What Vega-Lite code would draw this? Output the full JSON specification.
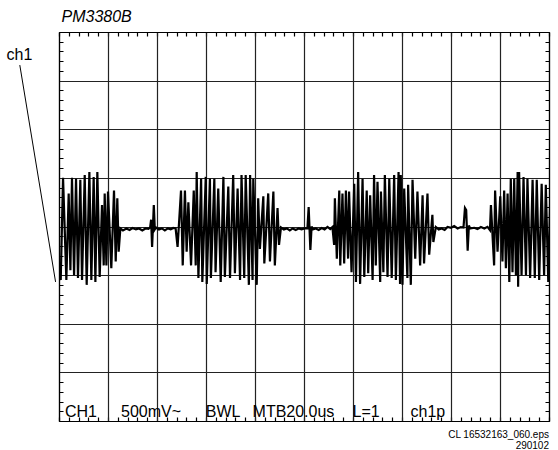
{
  "$schema": "https://vega.github.io/schema/vega-lite/v6.json",
  "width": 490,
  "height": 389,
  "autosize": {"type": "none"},
  "padding": {"left": 59, "top": 32, "right": 9, "bottom": 29},
  "background": "white",
  "config": {
    "view": {"stroke": null},
    "font": "Liberation Sans",
    "axis": {"domainColor": "black", "domainWidth": 1.2, "gridColor": "#222", "gridOpacity": 1, "labels": false, "ticks": false}
  },
  "title": {
    "text": ["CL 16532163_060.eps", "290102"],
    "orient": "bottom",
    "anchor": "end",
    "align": "right",
    "fontSize": 10,
    "fontWeight": "normal",
    "lineHeight": 10.5,
    "offset": 9,
    "color": "black"
  },
  "datasets": {
    "wave": [
      {"t": -0.4, "v": -0.40}, {"t": 0.7, "v": -0.55}, {"t": 1.65, "v": 0.50}, {"t": 3.0, "v": -0.55},
      {"t": 3.95, "v": 0.34}, {"t": 4.65, "v": -0.45}, {"t": 5.3, "v": 0.50}, {"t": 6.15, "v": -0.50},
      {"t": 6.95, "v": 0.49}, {"t": 7.75, "v": -0.53}, {"t": 8.7, "v": 0.48}, {"t": 9.4, "v": -0.55},
      {"t": 10.5, "v": 0.53}, {"t": 11.3, "v": -0.60}, {"t": 12.4, "v": 0.56}, {"t": 13.2, "v": -0.55},
      {"t": 14.15, "v": 0.51}, {"t": 14.85, "v": -0.57}, {"t": 15.65, "v": 0.56}, {"t": 16.6, "v": -0.52},
      {"t": 17.55, "v": 0.22}, {"t": 18.25, "v": -0.40}, {"t": 18.65, "v": 0.34}, {"t": 19.35, "v": -0.40},
      {"t": 20.0, "v": 0.36}, {"t": 21.35, "v": -0.43}, {"t": 22.45, "v": 0.37}, {"t": 23.15, "v": -0.36},
      {"t": 23.8, "v": 0.29}, {"t": 24.35, "v": -0.26}, {"t": 25.05, "v": -0.02}, {"t": 26.1, "v": -0.04},
      {"t": 27.5, "v": -0.02}, {"t": 28.8, "v": -0.035}, {"t": 30.0, "v": -0.015}, {"t": 31.4, "v": -0.03},
      {"t": 32.7, "v": -0.02}, {"t": 34.0, "v": -0.04}, {"t": 35.3, "v": -0.02}, {"t": 36.5, "v": -0.025},
      {"t": 37.2, "v": -0.01}, {"t": 37.6, "v": 0.07}, {"t": 38.0, "v": -0.21}, {"t": 38.7, "v": 0.22},
      {"t": 39.1, "v": -0.03}, {"t": 39.6, "v": -0.01}, {"t": 40.8, "v": -0.03}, {"t": 42.0, "v": -0.02},
      {"t": 43.2, "v": -0.04}, {"t": 44.4, "v": -0.02}, {"t": 45.6, "v": -0.03}, {"t": 46.6, "v": -0.015},
      {"t": 47.6, "v": -0.02},
      {"t": 48.4, "v": -0.21}, {"t": 49.8, "v": 0.37}, {"t": 50.5, "v": -0.40}, {"t": 51.4, "v": 0.37},
      {"t": 52.1, "v": -0.26}, {"t": 52.8, "v": 0.25}, {"t": 53.9, "v": -0.40}, {"t": 55.0, "v": 0.37},
      {"t": 55.8, "v": -0.40}, {"t": 56.2, "v": 0.56}, {"t": 56.9, "v": -0.53}, {"t": 58.0, "v": 0.49},
      {"t": 58.5, "v": -0.57}, {"t": 59.9, "v": 0.51}, {"t": 60.3, "v": -0.59}, {"t": 61.6, "v": 0.49},
      {"t": 62.0, "v": -0.53}, {"t": 63.4, "v": 0.49}, {"t": 63.9, "v": -0.47}, {"t": 65.0, "v": 0.39},
      {"t": 66.0, "v": -0.57}, {"t": 67.1, "v": 0.51}, {"t": 67.7, "v": -0.52}, {"t": 69.1, "v": 0.41},
      {"t": 69.8, "v": -0.53}, {"t": 71.1, "v": 0.53}, {"t": 71.8, "v": -0.48}, {"t": 72.9, "v": 0.39},
      {"t": 73.9, "v": -0.55}, {"t": 74.5, "v": 0.53}, {"t": 75.6, "v": -0.53}, {"t": 76.2, "v": 0.53},
      {"t": 77.5, "v": -0.60}, {"t": 78.0, "v": 0.53}, {"t": 79.0, "v": -0.55}, {"t": 79.3, "v": 0.49},
      {"t": 80.7, "v": -0.60}, {"t": 81.3, "v": 0.29}, {"t": 82.0, "v": -0.23}, {"t": 83.4, "v": 0.31},
      {"t": 83.8, "v": -0.38}, {"t": 85.4, "v": 0.34}, {"t": 86.1, "v": -0.36}, {"t": 87.5, "v": 0.36},
      {"t": 88.1, "v": -0.40}, {"t": 89.2, "v": 0.19}, {"t": 89.8, "v": -0.19}, {"t": 90.6, "v": -0.01},
      {"t": 91.8, "v": -0.03}, {"t": 93.0, "v": -0.02}, {"t": 94.2, "v": -0.04}, {"t": 95.4, "v": -0.02},
      {"t": 96.6, "v": -0.035}, {"t": 97.8, "v": -0.02}, {"t": 99.0, "v": -0.03}, {"t": 100.2, "v": -0.02},
      {"t": 101.4, "v": -0.02}, {"t": 101.9, "v": 0.20}, {"t": 102.6, "v": -0.24}, {"t": 103.1, "v": 0.0},
      {"t": 103.6, "v": -0.03}, {"t": 104.8, "v": -0.02}, {"t": 106.0, "v": -0.035}, {"t": 107.2, "v": -0.015},
      {"t": 108.4, "v": -0.03}, {"t": 109.6, "v": -0.005}, {"t": 110.7, "v": -0.027}, {"t": 111.6, "v": -0.006},
      {"t": 112.3, "v": -0.19}, {"t": 112.6, "v": 0.29}, {"t": 113.4, "v": -0.33}, {"t": 114.4, "v": 0.37},
      {"t": 114.8, "v": -0.40}, {"t": 115.7, "v": 0.34}, {"t": 116.4, "v": -0.38}, {"t": 117.1, "v": 0.37},
      {"t": 118.0, "v": -0.33}, {"t": 118.4, "v": 0.36}, {"t": 119.4, "v": -0.47}, {"t": 120.5, "v": 0.44},
      {"t": 121.2, "v": -0.57}, {"t": 122.1, "v": 0.56}, {"t": 122.9, "v": -0.59}, {"t": 123.9, "v": 0.49},
      {"t": 124.6, "v": -0.52}, {"t": 125.6, "v": 0.37}, {"t": 126.2, "v": -0.48}, {"t": 127.0, "v": 0.32},
      {"t": 128.0, "v": -0.55}, {"t": 128.6, "v": 0.53}, {"t": 129.3, "v": -0.40}, {"t": 130.0, "v": 0.46},
      {"t": 131.1, "v": -0.57}, {"t": 131.4, "v": 0.36}, {"t": 132.4, "v": -0.47}, {"t": 133.0, "v": 0.53},
      {"t": 134.1, "v": -0.52}, {"t": 134.8, "v": 0.49}, {"t": 135.8, "v": -0.53}, {"t": 136.8, "v": 0.53},
      {"t": 137.5, "v": -0.55}, {"t": 138.6, "v": 0.56}, {"t": 139.2, "v": -0.59}, {"t": 139.5, "v": 0.53},
      {"t": 140.2, "v": -0.60}, {"t": 140.9, "v": 0.39}, {"t": 142.2, "v": -0.53}, {"t": 142.5, "v": 0.43},
      {"t": 143.6, "v": -0.60}, {"t": 144.3, "v": 0.48}, {"t": 145.4, "v": -0.33}, {"t": 146.3, "v": 0.36},
      {"t": 147.4, "v": -0.40}, {"t": 148.4, "v": 0.32}, {"t": 149.0, "v": -0.38}, {"t": 150.4, "v": 0.34},
      {"t": 151.1, "v": -0.29}, {"t": 152.4, "v": 0.12}, {"t": 152.8, "v": -0.16}, {"t": 153.8, "v": -0.005},
      {"t": 155.0, "v": -0.03}, {"t": 156.2, "v": -0.02}, {"t": 157.4, "v": -0.035}, {"t": 158.6, "v": -0.005},
      {"t": 160.0, "v": -0.013}, {"t": 161.3, "v": 0.004}, {"t": 162.7, "v": -0.02}, {"t": 164.0, "v": -0.006},
      {"t": 165.1, "v": -0.01}, {"t": 165.7, "v": 0.19}, {"t": 166.2, "v": 0.17}, {"t": 166.8, "v": -0.25},
      {"t": 167.3, "v": 0.01}, {"t": 167.8, "v": -0.02}, {"t": 169.5, "v": -0.013}, {"t": 170.8, "v": -0.027},
      {"t": 172.2, "v": -0.006}, {"t": 173.6, "v": -0.02}, {"t": 174.9, "v": -0.003}, {"t": 175.9, "v": -0.037},
      {"t": 176.3, "v": 0.22}, {"t": 177.6, "v": -0.40}, {"t": 178.0, "v": 0.37}, {"t": 179.0, "v": -0.26},
      {"t": 180.1, "v": 0.31}, {"t": 181.0, "v": -0.36}, {"t": 181.7, "v": 0.37}, {"t": 182.4, "v": -0.43},
      {"t": 183.1, "v": 0.34}, {"t": 183.8, "v": -0.57}, {"t": 184.4, "v": 0.49}, {"t": 185.1, "v": -0.47},
      {"t": 185.8, "v": 0.49}, {"t": 186.5, "v": -0.50}, {"t": 187.2, "v": 0.56}, {"t": 187.4, "v": -0.62},
      {"t": 187.8, "v": 0.56}, {"t": 188.8, "v": -0.50}, {"t": 189.6, "v": 0.51}, {"t": 190.6, "v": -0.50},
      {"t": 191.2, "v": 0.49}, {"t": 192.3, "v": -0.53}, {"t": 193.3, "v": 0.48}, {"t": 194.2, "v": -0.53},
      {"t": 195.0, "v": 0.48}, {"t": 196.0, "v": -0.55}, {"t": 197.0, "v": 0.44}, {"t": 198.0, "v": -0.50},
      {"t": 198.7, "v": 0.43}, {"t": 199.7, "v": -0.57}, {"t": 200.5, "v": 0.29}
    ],
    "labels": [
      {"t": 2.4, "v": -1.955, "label": "CH1"},
      {"t": 25.3, "v": -1.955, "label": "500mV~"},
      {"t": 59.9, "v": -1.955, "label": "BWL"},
      {"t": 79.0, "v": -1.955, "label": "MTB20.0us"},
      {"t": 119.8, "v": -1.955, "label": "L=1"},
      {"t": 143.5, "v": -1.955, "label": "ch1p"}
    ],
    "pointer": [
      {"t": -16.0, "v": 1.66},
      {"t": -1.4, "v": -0.57}
    ]
  },
  "layer": [
    {
      "data": {"name": "wave"},
      "mark": {"type": "line", "color": "black", "strokeWidth": 2.2, "clip": true},
      "encoding": {
        "x": {
          "field": "t", "type": "quantitative",
          "scale": {"domain": [0, 200], "nice": false, "zero": false},
          "axis": {
            "orient": "bottom", "title": null,
            "values": [0,4,8,12,16,20,24,28,32,36,40,44,48,52,56,60,64,68,72,76,80,84,88,92,96,100,104,108,112,116,120,124,128,132,136,140,144,148,152,156,160,164,168,172,176,180,184,188,192,196,200],
            "grid": true, "gridDash": [4, 381], "gridColor": "black", "gridWidth": 1.2
          }
        },
        "y": {
          "field": "v", "type": "quantitative",
          "scale": {"domain": [-2, 2], "nice": false, "zero": false},
          "axis": {
            "orient": "left",
            "values": [-2,-1.9,-1.8,-1.7,-1.6,-1.5,-1.4,-1.3,-1.2,-1.1,-1,-0.9,-0.8,-0.7,-0.6,-0.5,-0.4,-0.3,-0.2,-0.1,0,0.1,0.2,0.3,0.4,0.5,0.6,0.7,0.8,0.9,1,1.1,1.2,1.3,1.4,1.5,1.6,1.7,1.8,1.9,2],
            "grid": true, "gridDash": [4, 482], "gridColor": "black", "gridWidth": 1.2,
            "title": "ch1", "titleAngle": 0, "titleX": -53, "titleY": 27, "titleAlign": "left",
            "titleBaseline": "alphabetic", "titleFontSize": 16, "titleFontWeight": "normal", "titleColor": "black"
          }
        }
      }
    },
    {
      "data": {"name": "labels"},
      "mark": {"type": "text", "align": "left", "baseline": "alphabetic", "fontSize": 16, "color": "black"},
      "encoding": {
        "x": {
          "field": "t", "type": "quantitative",
          "scale": {"domain": [0, 200], "nice": false, "zero": false},
          "axis": {
            "orient": "top",
            "values": [0,20,40,60,80,100,120,140,160,180,200],
            "grid": true, "gridWidth": 1.2,
            "title": "PM3380B", "titleX": 2, "titleY": -11, "titleAlign": "left", "titleAnchor": "start",
            "titleBaseline": "alphabetic", "titleFontSize": 16, "titleFontStyle": "italic", "titleFontWeight": "normal", "titleColor": "black"
          }
        },
        "y": {
          "field": "v", "type": "quantitative",
          "scale": {"domain": [-2, 2], "nice": false, "zero": false},
          "axis": {
            "orient": "right", "title": null,
            "values": [-2,-1.5,-1,-0.5,0,0.5,1,1.5,2],
            "grid": true, "gridWidth": 1.2
          }
        },
        "text": {"field": "label", "type": "nominal"}
      }
    },
    {
      "data": {"name": "pointer"},
      "mark": {"type": "line", "color": "black", "strokeWidth": 1, "clip": false},
      "encoding": {
        "x": {"field": "t", "type": "quantitative", "axis": null, "scale": {"domain": [0, 200], "nice": false, "zero": false}},
        "y": {"field": "v", "type": "quantitative", "axis": null, "scale": {"domain": [-2, 2], "nice": false, "zero": false}}
      }
    }
  ],
  "resolve": {"axis": {"x": "independent", "y": "independent"}}
}
